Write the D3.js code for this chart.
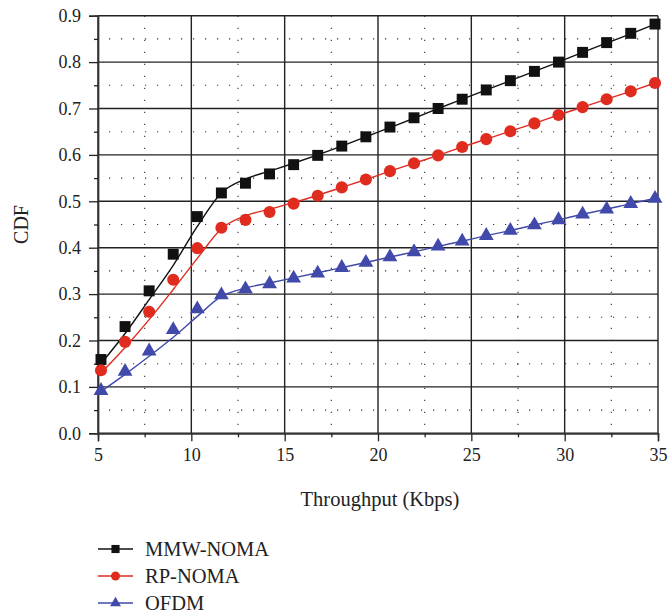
<!DOCTYPE html>
<html>
<head>
<meta charset="utf-8">
<script src="https://cdn.jsdelivr.net/npm/d3@7"></script>
<style>
  body { margin: 0; background: #fff; }
  svg { display: block; }
  text { font-family: "Liberation Serif", "DejaVu Serif", serif; fill: #222; }
</style>
</head>
<body>
<script>
// Chart data
var xs = [5.16, 6.45, 7.74, 9.03, 10.32, 11.61, 12.9, 14.19, 15.48, 16.77, 18.06, 19.35,
          20.64, 21.93, 23.22, 24.51, 25.8, 27.09, 28.38, 29.67, 30.96, 32.25, 33.54, 34.84];

var mmwNoma = [0.159, 0.23, 0.307, 0.386, 0.467, 0.518, 0.539, 0.559, 0.579, 0.599, 0.619, 0.639,
               0.66, 0.68, 0.70, 0.72, 0.74, 0.76, 0.78, 0.80, 0.821, 0.842, 0.862, 0.882];
var rpNoma = [0.136, 0.197, 0.262, 0.331, 0.399, 0.443, 0.46, 0.477, 0.495, 0.512, 0.53, 0.547,
              0.565, 0.582, 0.599, 0.617, 0.634, 0.651, 0.668, 0.686, 0.703, 0.72, 0.737, 0.755];
var ofdm = [0.092, 0.133, 0.177, 0.223, 0.268, 0.298, 0.311, 0.322, 0.334, 0.345, 0.357, 0.368,
            0.38, 0.391, 0.403, 0.414, 0.426, 0.437, 0.449, 0.46, 0.472, 0.483, 0.495, 0.506];

// fitted curves drawn under the markers
var mmwFit = [0.150, 0.215, 0.288, 0.362, 0.446, 0.518, 0.548, 0.565, 0.582, 0.600, 0.619, 0.639,
              0.659, 0.679, 0.700, 0.720, 0.740, 0.760, 0.780, 0.800, 0.821, 0.841, 0.861, 0.882];
var rpFit = [0.130, 0.185, 0.245, 0.310, 0.377, 0.441, 0.469, 0.483, 0.497, 0.513, 0.530, 0.547,
             0.565, 0.582, 0.599, 0.617, 0.634, 0.651, 0.668, 0.686, 0.703, 0.720, 0.737, 0.755];
var ofdmFit = [0.090, 0.127, 0.166, 0.207, 0.252, 0.295, 0.313, 0.324, 0.335, 0.346, 0.357, 0.368,
               0.380, 0.391, 0.403, 0.414, 0.426, 0.437, 0.449, 0.460, 0.472, 0.483, 0.495, 0.506];

var seriesNames = ["MMW-NOMA", "RP-NOMA", "OFDM"];
var xTicks = [5, 10, 15, 20, 25, 30, 35];
var yTicks = [0, 0.1, 0.2, 0.3, 0.4, 0.5, 0.6, 0.7, 0.8, 0.9];

var width = 669, height = 616;
var margin = {left: 98, top: 15.7, right: 11, bottom: 182.7};
var w = width - margin.left - margin.right, h = height - margin.top - margin.bottom;

var svg = d3.select("body").append("svg").attr("width", width).attr("height", height);
var g = svg.append("g").attr("transform", "translate(" + margin.left + "," + margin.top + ")");

var x = d3.scaleLinear().domain([5, 35]).range([0, w]);
var y = d3.scaleLinear().domain([0, 0.9]).range([h, 0]);

var series = [
  {name: seriesNames[0], pts: mmwNoma, fit: mmwFit, color: "#111", shape: d3.symbolSquare, size: 120},
  {name: seriesNames[1], pts: rpNoma, fit: rpFit, color: "#e02b1f", shape: d3.symbolCircle, size: 115},
  {name: seriesNames[2], pts: ofdm, fit: ofdmFit, color: "#4149aa", shape: d3.symbolTriangle, size: 95}
];

// minor dotted grid
var xMinor = d3.range(7.5, 35, 5), yMinor = d3.range(0.05, 0.9, 0.1);
g.selectAll(".vminor").data(xMinor).enter().append("line")
  .attr("x1", d => x(d)).attr("x2", d => x(d)).attr("y1", 0).attr("y2", h)
  .attr("stroke", "#333").attr("stroke-width", 1.1).attr("stroke-dasharray", "1.2,10.8");
g.selectAll(".hminor").data(yMinor).enter().append("line")
  .attr("y1", d => y(d)).attr("y2", d => y(d)).attr("x1", 0).attr("x2", w)
  .attr("stroke", "#333").attr("stroke-width", 1.1).attr("stroke-dasharray", "1.2,10.8")
  .attr("stroke-dashoffset", -11);

// major solid grid
g.selectAll(".vmajor").data(xTicks).enter().append("line")
  .attr("x1", d => x(d)).attr("x2", d => x(d)).attr("y1", 0).attr("y2", h)
  .attr("stroke", "#222").attr("stroke-width", 1.4);
g.selectAll(".hmajor").data(yTicks).enter().append("line")
  .attr("y1", d => y(d)).attr("y2", d => y(d)).attr("x1", 0).attr("x2", w)
  .attr("stroke", "#222").attr("stroke-width", 1.4);

// axes
g.append("g").attr("transform", "translate(0," + h + ")")
  .call(d3.axisBottom(x).tickValues(xTicks).tickSize(8).tickPadding(7).tickFormat(d3.format("d")));
g.append("g")
  .call(d3.axisLeft(y).tickValues(yTicks).tickSize(9).tickPadding(8).tickFormat(d3.format(".1f")));
g.append("g").attr("transform", "translate(0," + h + ")")
  .call(d3.axisBottom(x).tickValues(xMinor).tickSize(4).tickFormat(""));
g.append("g").call(d3.axisLeft(y).tickValues(yMinor).tickSize(4).tickFormat(""));
g.selectAll(".domain").attr("stroke", "#333").attr("stroke-width", 1.4);
g.selectAll(".tick line").attr("stroke", "#222").attr("stroke-width", 1.3);
g.selectAll(".tick text").style("font-size", "18px").attr("fill", "#222");

// fitted lines
var line = d3.line().x((d, i) => x(xs[i])).y(d => y(d)).curve(d3.curveMonotoneX);
series.forEach(function(s) {
  g.append("path").datum(s.fit).attr("d", line)
    .attr("fill", "none").attr("stroke", s.color).attr("stroke-width", 1.4);
});

// markers
series.forEach(function(s) {
  g.selectAll(null).data(s.pts).enter().append("path")
    .attr("d", d3.symbol().type(s.shape).size(s.size))
    .attr("transform", (d, i) => "translate(" + x(xs[i]) + "," + y(d) + ")")
    .attr("fill", s.color);
});

// axis titles
svg.append("text").attr("transform", "translate(28," + (margin.top + h / 2) + ") rotate(-90)")
  .attr("text-anchor", "middle").style("font-size", "20px").text("CDF");
svg.append("text").attr("x", margin.left + w / 2 + 2).attr("y", 506)
  .attr("text-anchor", "middle").style("font-size", "20.5px").text("Throughput (Kbps)");

// legend
var legend = svg.append("g").attr("transform", "translate(98,549)");
series.forEach(function(s, i) {
  var row = legend.append("g").attr("transform", "translate(0," + (i * 27) + ")");
  row.append("line").attr("x1", 0).attr("x2", 35).attr("stroke", s.color).attr("stroke-width", 1.4);
  row.append("path").attr("d", d3.symbol().type(s.shape).size(s.size * 0.55))
    .attr("transform", "translate(17.5,0)").attr("fill", s.color);
  row.append("text").attr("x", 47).attr("y", 7).style("font-size", "20.5px").text(s.name);
});
</script>
</body>
</html>
